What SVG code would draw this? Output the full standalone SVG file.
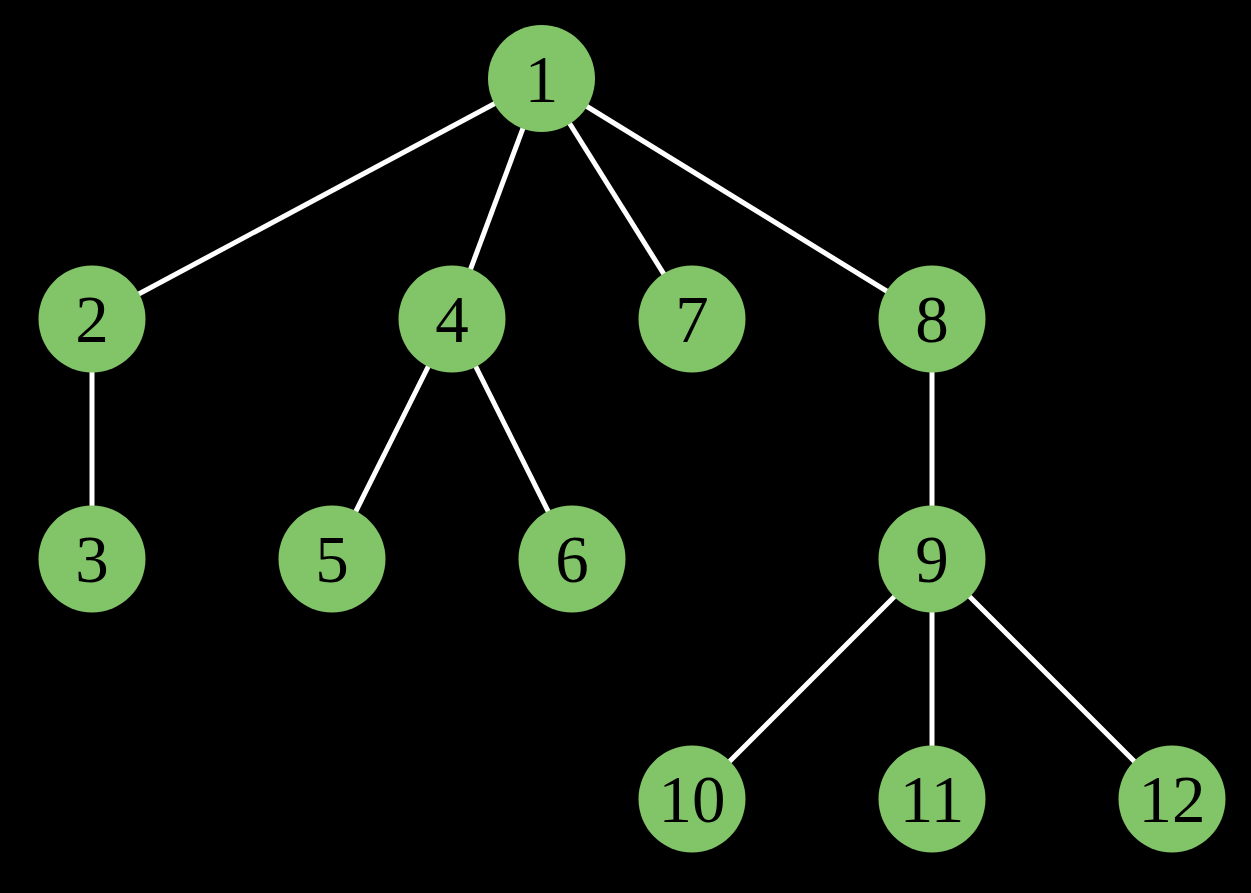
<svg xmlns="http://www.w3.org/2000/svg" width="1251" height="893" viewBox="0 0 1251 893">
<style>
.e{stroke:#ffffff;stroke-width:5;fill:none}
.n circle{fill:#82c468}
.n text{font-family:"Liberation Serif","DejaVu Serif",serif;font-size:67px;fill:#000;text-anchor:middle}
</style>
<rect width="1251" height="893" fill="#000"/>
<g id="edges">
<line class="e" x1="541.5" y1="78.5" x2="92" y2="319"/>
<line class="e" x1="541.5" y1="78.5" x2="452" y2="319"/>
<line class="e" x1="541.5" y1="78.5" x2="692" y2="319"/>
<line class="e" x1="541.5" y1="78.5" x2="932" y2="319"/>
<line class="e" x1="92" y1="319" x2="92" y2="559"/>
<line class="e" x1="452" y1="319" x2="332" y2="559"/>
<line class="e" x1="452" y1="319" x2="572" y2="559"/>
<line class="e" x1="932" y1="319" x2="932" y2="559"/>
<line class="e" x1="932" y1="559" x2="692" y2="799"/>
<line class="e" x1="932" y1="559" x2="932" y2="799"/>
<line class="e" x1="932" y1="559" x2="1172" y2="799"/>
</g>
<g id="n1" class="n"><circle cx="541.5" cy="78.5" r="53.5"/><text x="541.5" y="101.5">1</text></g>
<g id="n2" class="n"><circle cx="92" cy="319" r="53.5"/><text x="92" y="342">2</text></g>
<g id="n4" class="n"><circle cx="452" cy="319" r="53.5"/><text x="452" y="342">4</text></g>
<g id="n7" class="n"><circle cx="692" cy="319" r="53.5"/><text x="692" y="342">7</text></g>
<g id="n8" class="n"><circle cx="932" cy="319" r="53.5"/><text x="932" y="342">8</text></g>
<g id="n3" class="n"><circle cx="92" cy="559" r="53.5"/><text x="92" y="582">3</text></g>
<g id="n5" class="n"><circle cx="332" cy="559" r="53.5"/><text x="332" y="582">5</text></g>
<g id="n6" class="n"><circle cx="572" cy="559" r="53.5"/><text x="572" y="582">6</text></g>
<g id="n9" class="n"><circle cx="932" cy="559" r="53.5"/><text x="932" y="582">9</text></g>
<g id="n10" class="n"><circle cx="692" cy="799" r="53.5"/><text x="692" y="822">10</text></g>
<g id="n11" class="n"><circle cx="932" cy="799" r="53.5"/><text x="932" y="822">11</text></g>
<g id="n12" class="n"><circle cx="1172" cy="799" r="53.5"/><text x="1172" y="822">12</text></g>
</svg>
